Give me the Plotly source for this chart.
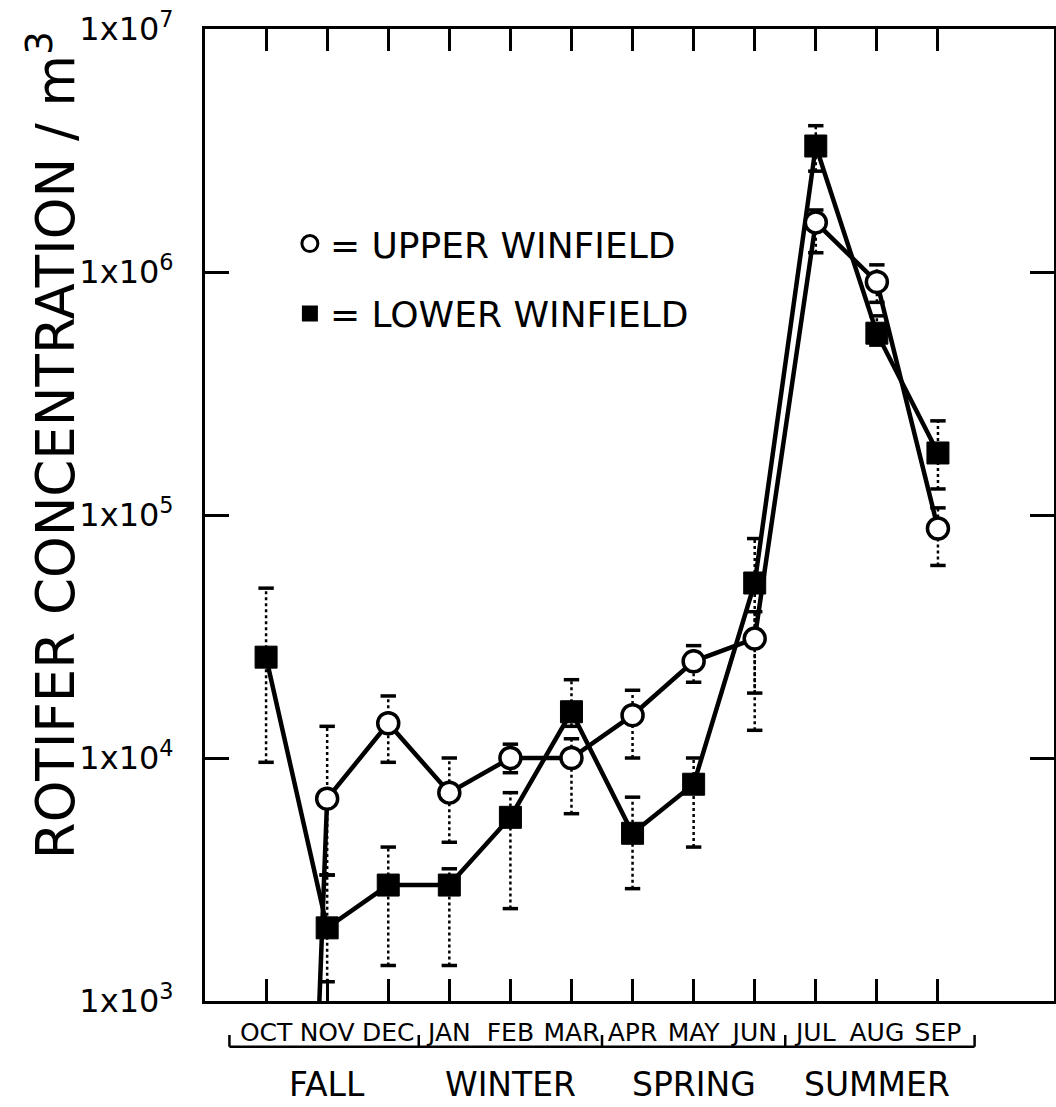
import plotly.graph_objects as go

months = ["OCT", "NOV", "DEC", "JAN", "FEB", "MAR", "APR", "MAY", "JUN", "JUL", "AUG", "SEP"]
seasons = ["FALL", "WINTER", "SPRING", "SUMMER"]
season_start = [0, 3, 6, 9]

# Upper Winfield (open circles); October value lies far below the axis (effectively zero)
upper = [0.002, 6.8e3, 1.39e4, 7.2e3, 1.0e4, 1.0e4, 1.5e4, 2.5e4, 3.1e4, 1.6e6, 9.1e5, 8.8e4]
upper_lo = [None, 3.3e3, 9.6e3, 4.5e3, 8.7e3, 5.9e3, 1.0e4, 2.05e4, 1.3e4, 1.2e6, 7.5e5, 6.2e4]
upper_hi = [None, 1.35e4, 1.8e4, 1.0e4, 1.14e4, 1.2e4, 1.9e4, 2.9e4, 4.0e4, 1.8e6, 1.07e6, 1.07e5]

# Lower Winfield (filled squares)
lower = [2.6e4, 2.0e3, 3.0e3, 3.0e3, 5.7e3, 1.55e4, 4.9e3, 7.8e3, 5.25e4, 3.3e6, 5.6e5, 1.8e5]
lower_lo = [9.6e3, 1.2e3, 1.4e3, 1.4e3, 2.4e3, 1.35e4, 2.9e3, 4.3e3, 1.85e4, 2.6e6, 5.0e5, 1.28e5]
lower_hi = [5.0e4, 3.3e3, 4.3e3, 3.5e3, 7.2e3, 2.1e4, 6.9e3, 1.0e4, 8.0e4, 4.0e6, 6.6e5, 2.44e5]

ytick_vals = [1e3, 1e4, 1e5, 1e6, 1e7]
ytick_text = ["1x10<sup>3</sup>", "1x10<sup>4</sup>", "1x10<sup>5</sup>", "1x10<sup>6</sup>", "1x10<sup>7</sup>"]

FONT = "DejaVu Sans"
x_idx = list(range(len(months)))


def err_xy(lo, hi):
    xs, ys, cx, cy = [], [], [], []
    for i, (l, h) in enumerate(zip(lo, hi)):
        if l is None:
            continue
        xs += [i, i, None]
        ys += [l, h, None]
        cx += [i, i]
        cy += [l, h]
    return xs, ys, cx, cy


fig = go.Figure()

# dotted error bars with caps
for lo, hi in [(upper_lo, upper_hi), (lower_lo, lower_hi)]:
    xs, ys, cx, cy = err_xy(lo, hi)
    fig.add_trace(go.Scatter(x=xs, y=ys, mode="lines", showlegend=False, hoverinfo="skip",
                             line=dict(color="black", width=2.5, dash="dot")))
    fig.add_trace(go.Scatter(x=cx, y=cy, mode="markers", showlegend=False, hoverinfo="skip",
                             marker=dict(symbol="line-ew", size=11, color="black",
                                         line=dict(color="black", width=3.5))))

# connecting lines
fig.add_trace(go.Scatter(x=x_idx, y=upper, mode="lines", showlegend=False,
                         line=dict(color="black", width=4.5)))
fig.add_trace(go.Scatter(x=x_idx, y=lower, mode="lines", showlegend=False,
                         line=dict(color="black", width=4.5)))

# markers
fig.add_trace(go.Scatter(x=x_idx, y=lower, mode="markers", showlegend=False, name="LOWER WINFIELD",
                         marker=dict(symbol="square", size=22, color="black",
                                     line=dict(color="black", width=1))))
fig.add_trace(go.Scatter(x=x_idx, y=upper, mode="markers", showlegend=False, name="UPPER WINFIELD",
                         marker=dict(symbol="circle", size=21, color="white",
                                     line=dict(color="black", width=3.5))))

# legend entries
fig.add_trace(go.Scatter(x=[None], y=[None], mode="markers", name="= UPPER WINFIELD",
                         legendgroup="u",
                         marker=dict(symbol="circle", size=16, color="white",
                                     line=dict(color="black", width=3))))
fig.add_trace(go.Scatter(x=[None], y=[None], mode="markers", name="= LOWER WINFIELD",
                         legendgroup="l",
                         marker=dict(symbol="square", size=17, color="black")))

# season brackets
y_br = -0.047
y_br_top = -0.035
bounds = [-0.6] + [s - 0.5 for s in season_start[1:]] + [len(months) - 0.4]
shapes = [dict(type="line", xref="x", yref="paper", x0=bounds[0], x1=bounds[-1],
               y0=y_br, y1=y_br, line=dict(color="black", width=2.5))]
for b in bounds:
    shapes.append(dict(type="line", xref="x", yref="paper", x0=b, x1=b,
                       y0=y_br, y1=y_br_top, line=dict(color="black", width=2.5)))

annotations = []
for name, s in zip(seasons, season_start):
    annotations.append(dict(text=name, x=s + 1, y=-0.086, xref="x", yref="paper",
                            showarrow=False, xanchor="center", yanchor="middle",
                            font=dict(family=FONT, size=33, color="black")))
annotations.append(dict(text="ROTIFER CONCENTRATION / m<sup>3</sup>", x=-0.18, y=0.572,
                        xref="paper", yref="paper", showarrow=False, textangle=-90,
                        xanchor="center", yanchor="middle",
                        font=dict(family=FONT, size=53, color="black")))

fig.update_layout(
    width=1056, height=1107,
    margin=dict(l=205, r=2, t=29, b=106, autoexpand=False),
    paper_bgcolor="white", plot_bgcolor="white",
    font=dict(family=FONT, color="black"),
    shapes=shapes, annotations=annotations,
    showlegend=True,
    legend=dict(x=0.1, y=0.81, xanchor="left", yanchor="top", bgcolor="rgba(0,0,0,0)",
                font=dict(family=FONT, size=36, color="black"), tracegroupgap=20,
                itemwidth=30),
)

fig.update_xaxes(
    range=[-1.0, 12.9], tickmode="array", tickvals=x_idx, ticktext=months,
    ticks="inside", ticklen=22, tickwidth=2.5, tickcolor="black",
    showline=True, linewidth=3, linecolor="black", mirror="ticks",
    showgrid=False, zeroline=False, ticklabelstandoff=7, automargin=False,
    ticklabeloverflow="allow",
    tickfont=dict(family=FONT, size=25, color="black"),
)
fig.update_yaxes(
    type="log", range=[3, 7], tickmode="array", tickvals=ytick_vals, ticktext=ytick_text,
    ticks="inside", ticklen=24, tickwidth=2.5, tickcolor="black",
    showline=True, linewidth=3, linecolor="black", mirror="ticks",
    showgrid=False, zeroline=False, ticklabelstandoff=22, automargin=False,
    ticklabeloverflow="allow",
    tickfont=dict(family=FONT, size=32, color="black"),
)

# remove the browser's default 8px page margin so the figure fills the window exactly
fig.write_html("out.html", config={"displayModeBar": False},
               post_script="document.body.style.margin='0';")
